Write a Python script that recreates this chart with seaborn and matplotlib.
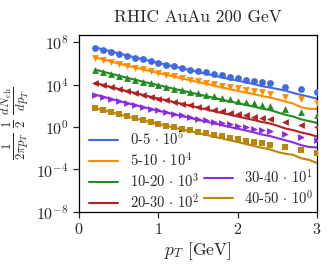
import matplotlib
matplotlib.use("Agg")
import matplotlib.pyplot as plt
import numpy as np
import pandas as pd
import seaborn as sns
from matplotlib.lines import Line2D

# centrality classes, scale exponents and colours
classes = ["0-5", "5-10", "10-20", "20-30", "30-40", "40-50"]
scale_exp = [5, 4, 3, 2, 1, 0]
colors = ["#4169e1", "#ff8c00", "#228b22", "#b22222", "#8a2be2", "#b8860b"]
markers = ["o", "v", "^", "<", ">", "s"]

# measured points (log10 of scaled yield)
pt_data = [0.2, 0.3, 0.4, 0.5, 0.6, 0.7, 0.8, 0.9, 1.0, 1.1, 1.2, 1.3, 1.4,
           1.5, 1.6, 1.7, 1.8, 1.9, 2.0, 2.1, 2.2, 2.3, 2.4, 2.6, 2.8, 3.0]
data_0_5 = [7.46, 7.27, 7.08, 6.89, 6.71, 6.53, 6.36, 6.19, 6.03, 5.87, 5.71, 5.56, 5.41,
            5.27, 5.13, 4.99, 4.85, 4.72, 4.59, 4.46, 4.33, 4.21, 4.10, 3.80, 3.56, 3.28]
data_5_10 = [6.52, 6.33, 6.14, 5.95, 5.77, 5.59, 5.42, 5.25, 5.08, 4.92, 4.76, 4.61, 4.46,
             4.31, 4.17, 4.03, 3.89, 3.76, 3.63, 3.50, 3.37, 3.25, 3.13, 2.87, 2.60, 2.30]
data_10_20 = [5.37, 5.18, 4.99, 4.80, 4.62, 4.44, 4.27, 4.10, 3.93, 3.77, 3.61, 3.46, 3.31,
              3.16, 3.02, 2.88, 2.74, 2.61, 2.48, 2.35, 2.22, 2.10, 1.98, 1.72, 1.44, 1.10]
data_20_30 = [4.12, 3.93, 3.74, 3.55, 3.37, 3.19, 3.02, 2.85, 2.68, 2.52, 2.36, 2.21, 2.06,
              1.91, 1.77, 1.63, 1.49, 1.36, 1.23, 1.10, 0.97, 0.85, 0.73, 0.48, 0.22, -0.02]
data_30_40 = [3.02, 2.82, 2.62, 2.43, 2.25, 2.07, 1.90, 1.73, 1.56, 1.40, 1.24, 1.09, 0.94,
              0.79, 0.65, 0.51, 0.37, 0.24, 0.11, -0.02, -0.15, -0.27, -0.39, -0.66, -0.92, -1.20]
data_40_50 = [1.77, 1.57, 1.37, 1.18, 0.99, 0.81, 0.64, 0.47, 0.30, 0.14, -0.02, -0.17, -0.32,
              -0.47, -0.61, -0.75, -0.89, -1.02, -1.15, -1.28, -1.41, -1.53, -1.65, -1.92, -2.18, -2.46]

# model curves (log10 of scaled yield)
pt_model = [0.2, 0.3, 0.4, 0.5, 0.6, 0.7, 0.8, 0.9, 1.0, 1.1, 1.2, 1.3, 1.4, 1.5, 1.6,
            1.7, 1.8, 1.9, 2.0, 2.1, 2.2, 2.3, 2.4, 2.5, 2.6, 2.7, 2.8, 2.9, 3.0]
model_0_5 = [7.50, 7.31, 7.12, 6.93, 6.74, 6.56, 6.38, 6.20, 6.03, 5.86, 5.69, 5.52, 5.35, 5.18,
             5.01, 4.84, 4.67, 4.50, 4.36, 4.20, 4.04, 3.85, 3.72, 3.58, 3.42, 3.20, 3.02, 2.85, 2.66]
model_5_10 = [6.55, 6.36, 6.17, 5.98, 5.79, 5.61, 5.43, 5.25, 5.08, 4.91, 4.74, 4.57, 4.40, 4.23,
              4.06, 3.89, 3.72, 3.55, 3.40, 3.25, 3.10, 2.92, 2.78, 2.60, 2.40, 2.20, 1.85, 1.72, 1.70]
model_10_20 = [5.40, 5.21, 5.02, 4.83, 4.64, 4.46, 4.28, 4.10, 3.93, 3.76, 3.59, 3.42, 3.25, 3.08,
               2.91, 2.74, 2.57, 2.40, 2.25, 2.08, 1.92, 1.74, 1.60, 1.38, 1.15, 0.98, 0.72, 0.55, 0.38]
model_20_30 = [4.15, 3.96, 3.77, 3.58, 3.39, 3.21, 3.03, 2.85, 2.68, 2.51, 2.34, 2.17, 2.00, 1.83,
               1.66, 1.49, 1.32, 1.15, 0.99, 0.82, 0.66, 0.48, 0.34, 0.12, -0.14, -0.30, -0.52, -0.68, -0.90]
model_30_40 = [3.05, 2.85, 2.65, 2.45, 2.26, 2.07, 1.89, 1.71, 1.53, 1.36, 1.19, 1.02, 0.85, 0.68,
               0.51, 0.34, 0.17, 0.00, -0.16, -0.33, -0.50, -0.70, -0.84, -1.05, -1.25, -1.45, -1.72, -1.88, -1.93]
model_40_50 = [1.80, 1.60, 1.40, 1.20, 1.01, 0.82, 0.64, 0.46, 0.28, 0.11, -0.06, -0.23, -0.40, -0.57,
               -0.74, -0.91, -1.08, -1.25, -1.42, -1.60, -1.78, -1.95, -2.10, -2.35, -2.52, -2.62, -2.95, -3.10, -3.40]

data_sets = [data_0_5, data_5_10, data_10_20, data_20_30, data_30_40, data_40_50]
model_sets = [model_0_5, model_5_10, model_10_20, model_20_30, model_30_40, model_40_50]

sns.set_style("ticks")
plt.rcParams["font.family"] = ["cmr10", "DejaVu Serif"]
plt.rcParams["mathtext.fontset"] = "cm"
plt.rcParams["axes.unicode_minus"] = False
plt.rcParams["axes.formatter.use_mathtext"] = True
plt.rcParams["font.size"] = 10

fig = plt.figure(figsize=(3.31, 2.69), dpi=100)
ax = fig.add_axes([0.239, 0.212, 0.719, 0.658])

handles = []
labels = []
for name, e, c, m, d, mod in zip(classes, scale_exp, colors, markers, data_sets, model_sets):
    df_d = pd.DataFrame({"pt": pt_data, "y": 10.0 ** np.array(d)})
    df_m = pd.DataFrame({"pt": pt_model, "y": 10.0 ** np.array(mod)})
    sns.scatterplot(data=df_d, x="pt", y="y", color=c, marker=m, s=24,
                    linewidth=0, ax=ax, clip_on=True, zorder=3)
    sns.lineplot(data=df_m, x="pt", y="y", color=c, linewidth=1.5, ax=ax, zorder=2)
    handles.append(Line2D([], [], color=c, linewidth=1.5))
    labels.append(name + r" $\cdot\ 10^{%d}$" % e)

ax.set_yscale("log")
ax.set_xlim(0, 3)
ax.set_ylim(1e-8, 4.6e8)
ax.set_xticks([0, 1, 2, 3])
ax.set_yticks([1e-8, 1e-4, 1e0, 1e4, 1e8])
ax.yaxis.set_minor_locator(matplotlib.ticker.NullLocator())
ax.tick_params(labelsize=11.5, length=4, width=0.9)
for s in ax.spines.values():
    s.set_visible(True)
    s.set_color("black")
    s.set_linewidth(0.9)

ax.set_xlabel(r"$p_T$ [GeV]", fontsize=12.5, labelpad=2)
ax.set_ylabel(r"$\frac{1}{2\pi p_T}\;\frac{1}{2}\;\frac{dN_{\rm ch}}{dp_T}$",
              fontsize=13, labelpad=3)
ax.set_title("RHIC AuAu 200 GeV", fontsize=12.5, pad=9)

blank = Line2D([], [], linestyle="none")
leg_handles = handles[:4] + [blank, blank] + handles[4:]
leg_labels = labels[:4] + [" ", " "] + labels[4:]
ax.legend(leg_handles, leg_labels, ncol=2, frameon=False, loc="lower left",
          bbox_to_anchor=(0.0, -0.05), fontsize=10.5, handlelength=2.0,
          columnspacing=0.3, labelspacing=0.2, borderaxespad=0.3)

fig.savefig("out.png", dpi=100)
